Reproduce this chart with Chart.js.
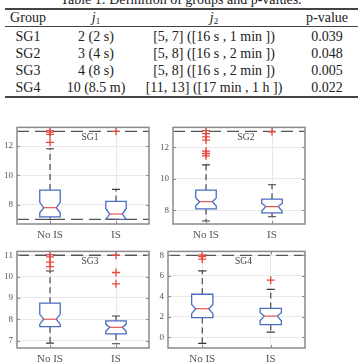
<!DOCTYPE html>
<html>
<head>
<meta charset="utf-8">
<script src="https://cdn.jsdelivr.net/npm/chart.js@4/dist/chart.umd.min.js"></script>
<style>
  html, body { margin: 0; padding: 0; background: #fff; }
  #page { position: relative; width: 362px; height: 364px; overflow: hidden; font-family: "Liberation Serif", "Times New Roman", serif; color: #222; }
  .cell { position: absolute; width: 140px; text-align: center; font-size: 14px; line-height: 16px; white-space: nowrap; }
  .rule { position: absolute; left: 5px; width: 353px; background: #444; }
  .title { position: absolute; left: 0; width: 362px; text-align: center; font-size: 14px; line-height: 16px; top: -8px; }
  sub { font-size: 9px; vertical-align: -2px; line-height: 0; }
  canvas { position: absolute; }
</style>
</head>
<body>
<div id="page">
  <div class="title">Table 1: Definition of groups and p-values.</div>
  <div class="rule" style="top:8px;height:2px"></div>
  <div class="rule" style="top:26px;height:1px"></div>
  <div class="rule" style="top:96px;height:2px"></div>
  <div id="table"></div>
  <canvas id="c0" width="155" height="127" style="left:0;top:118px"></canvas>
  <canvas id="c1" width="160" height="127" style="left:155px;top:118px"></canvas>
  <canvas id="c2" width="155" height="122" style="left:0;top:242px"></canvas>
  <canvas id="c3" width="160" height="122" style="left:155px;top:242px"></canvas>
</div>
<script>
// Table contents
const tableHeader = ['Group', '<i>j</i><sub>1</sub>', '<i>j</i><sub>2</sub>', 'p-value'];
const groupNames = ['SG1', 'SG2', 'SG3', 'SG4'];
const j1Values = ['2 (2 s)', '3 (4 s)', '4 (8 s)', '10 (8.5 m)'];
const j2Values = ['[5, 7] ([16 s , 1 min ])', '[5, 8] ([16 s , 2 min ])', '[5, 8] ([16 s , 2 min ])', '[11, 13] ([17 min , 1 h ])'];
const pValues = ['0.039', '0.048', '0.005', '0.022'];

// Box plot data, one row per group: [No IS, IS]
const categories = ['No IS', 'IS'];
const lowerWhisker = [[7.0, 7.0], [7.33, 7.6], [6.88, 6.85], [-0.59, 0.51]];
const q1 = [[7.17, 7.0], [8.1, 7.84], [7.65, 7.31], [1.93, 1.24]];
const notchLow = [[7.45, 7.0], [8.29, 7.94], [7.77, 7.43], [2.31, 1.62]];
const median = [[7.8, 7.37], [8.55, 8.24], [8.0, 7.62], [2.79, 2.07]];
const notchHigh = [[8.17, 7.75], [8.79, 8.45], [8.23, 7.77], [3.2, 2.41]];
const q3 = [[9.0, 8.23], [9.28, 8.71], [8.75, 7.92], [4.2, 2.82]];
const upperWhisker = [[11.82, 9.05], [10.88, 9.62], [10.26, 8.15], [6.48, 4.68]];
const outliersNoIS = [[13.05, 12.95, 12.8, 12.25], [13.05, 12.85, 12.65, 12.45, 11.75, 11.6, 11.45], [11.03, 10.92, 10.68, 10.47], [8.03, 7.88, 7.62]];
const outliersIS = [[13.0], [12.97], [11.0, 10.19, 9.66], [5.57]];
const refLines = [[13, 7], [13], [11], [8]];
const yTicks = [[8, 10, 12], [8, 10, 12], [7, 8, 9, 10, 11], [0, 2, 4, 6, 8]];

// build the table
const cols = [28, 96, 214, 327];
const rowsY = [18, 37, 54, 71, 88];
let html = '';
const rows = [tableHeader].concat(groupNames.map((g, i) => [g, j1Values[i], j2Values[i], pValues[i]]));
rows.forEach((r, ri) => {
    r.forEach((txt, ci) => {
        html += '<div class="cell" style="left:' + (cols[ci] - 70) + 'px;top:' + (rowsY[ri] - 8) + 'px">' + txt + '</div>';
    });
});
document.getElementById('table').innerHTML = html;

const serif = '"Liberation Serif", "Times New Roman", serif';
const boxBlue = '#4a6dc2';
const medRed = '#e5483f';
const frameGray = '#8a8a8a';

// draws notched boxes, whiskers, frame and group label
const boxPlugin = {
    id: 'boxPlugin',
    beforeDatasetsDraw(chart) {
        const g = chart.options.plugins.boxPlugin.group;
        const xs = chart.scales.x, ys = chart.scales.y;
        const ctx = chart.ctx;
        const y = v => ys.getPixelForValue(v);
        for (let i = 0; i < categories.length; i++) {
            const cx = xs.getPixelForValue(i + 1);
            const hw = xs.getPixelForValue(i + 1 + 0.155) - cx;
            const nw = xs.getPixelForValue(i + 1 + 0.095) - cx;
            const cw = xs.getPixelForValue(i + 1 + 0.06) - cx;
            ctx.save();
            // whiskers
            ctx.strokeStyle = '#3a3a3a';
            ctx.lineWidth = 1.1;
            ctx.setLineDash([6, 4]);
            ctx.beginPath();
            ctx.moveTo(cx, y(q3[g][i])); ctx.lineTo(cx, y(upperWhisker[g][i]));
            ctx.moveTo(cx, y(q1[g][i])); ctx.lineTo(cx, y(lowerWhisker[g][i]));
            ctx.stroke();
            ctx.setLineDash([]);
            ctx.beginPath();
            ctx.moveTo(cx - cw, y(upperWhisker[g][i])); ctx.lineTo(cx + cw, y(upperWhisker[g][i]));
            ctx.moveTo(cx - cw, y(lowerWhisker[g][i])); ctx.lineTo(cx + cw, y(lowerWhisker[g][i]));
            ctx.stroke();
            // notched box
            ctx.fillStyle = '#fff';
            ctx.strokeStyle = boxBlue;
            ctx.lineWidth = 1.3;
            ctx.beginPath();
            ctx.moveTo(cx - hw, y(q3[g][i]));
            ctx.lineTo(cx + hw, y(q3[g][i]));
            ctx.lineTo(cx + hw, y(notchHigh[g][i]));
            ctx.lineTo(cx + nw, y(median[g][i]));
            ctx.lineTo(cx + hw, y(notchLow[g][i]));
            ctx.lineTo(cx + hw, y(q1[g][i]));
            ctx.lineTo(cx - hw, y(q1[g][i]));
            ctx.lineTo(cx - hw, y(notchLow[g][i]));
            ctx.lineTo(cx - nw, y(median[g][i]));
            ctx.lineTo(cx - hw, y(notchHigh[g][i]));
            ctx.closePath();
            ctx.fill();
            ctx.stroke();
            // median
            ctx.strokeStyle = medRed;
            ctx.lineWidth = 1.1;
            ctx.beginPath();
            ctx.moveTo(cx - nw, y(median[g][i])); ctx.lineTo(cx + nw, y(median[g][i]));
            ctx.stroke();
            ctx.restore();
        }
    },
    afterDraw(chart) {
        const g = chart.options.plugins.boxPlugin.group;
        const a = chart.chartArea;
        const ctx = chart.ctx;
        ctx.save();
        ctx.strokeStyle = frameGray;
        ctx.lineWidth = 1.5;
        ctx.strokeRect(a.left, a.top, a.right - a.left, a.bottom - a.top);
        ctx.lineWidth = 1;
        ctx.beginPath();
        yTicks[g].forEach(v => {
            const py = Math.round(chart.scales.y.getPixelForValue(v)) + 0.5;
            ctx.moveTo(a.left, py); ctx.lineTo(a.left + 3, py);
            ctx.moveTo(a.right, py); ctx.lineTo(a.right - 3, py);
        });
        [1, 2].forEach(v => {
            const px = Math.round(chart.scales.x.getPixelForValue(v)) + 0.5;
            ctx.moveTo(px, a.bottom); ctx.lineTo(px, a.bottom - 3);
            ctx.moveTo(px, a.top); ctx.lineTo(px, a.top + 3);
        });
        ctx.stroke();
        ctx.fillStyle = '#444';
        ctx.font = '9.5px ' + serif;
        ctx.textAlign = 'center';
        ctx.textBaseline = 'middle';
        ctx.fillText(groupNames[g], (a.left + a.right) / 2 + 7, a.top + 10);
        ctx.restore();
    }
};

function makeChart(g, yMin, yMax, pad, yWidth, xHeight) {
    const datasets = [];
    refLines[g].forEach(v => {
        datasets.push({
            type: 'line',
            data: [{ x: 0.5, y: v }, { x: 2.5, y: v }],
            borderColor: '#555',
            borderWidth: 1.3,
            borderDash: [12, 6],
            pointRadius: 0,
            order: 2
        });
    });
    const pts = outliersNoIS[g].map(v => ({ x: 1, y: v })).concat(outliersIS[g].map(v => ({ x: 2, y: v })));
    datasets.push({
        type: 'scatter',
        data: pts,
        pointStyle: 'cross',
        pointRadius: 4,
        borderColor: medRed,
        borderWidth: 1.3,
        order: 1
    });
    return new Chart(document.getElementById('c' + g), {
        type: 'scatter',
        data: { datasets: datasets },
        options: {
            responsive: false,
            animation: false,
            events: [],
            layout: { padding: pad },
            plugins: {
                legend: { display: false },
                tooltip: { enabled: false },
                boxPlugin: { group: g }
            },
            scales: {
                x: {
                    type: 'linear',
                    min: 0.5,
                    max: 2.5,
                    afterBuildTicks: s => { s.ticks = categories.map((c, i) => ({ value: i + 1 })); },
                    afterFit: s => { s.height = xHeight; },
                    grid: { color: '#e8e8e8', drawTicks: false },
                    border: { display: false },
                    ticks: {
                        padding: 5,
                        autoSkip: false,
                        maxRotation: 0,
                        color: '#555',
                        font: { family: serif, size: 11 },
                        callback: v => categories[v - 1]
                    }
                },
                y: {
                    min: yMin,
                    max: yMax,
                    afterBuildTicks: s => { s.ticks = yTicks[g].map(v => ({ value: v })); },
                    afterFit: s => { s.width = yWidth; },
                    grid: { color: '#e8e8e8', drawTicks: false },
                    border: { display: false },
                    ticks: {
                        padding: 4,
                        color: '#555',
                        font: { family: serif, size: 9 }
                    }
                }
            }
        },
        plugins: [boxPlugin]
    });
}

makeChart(0, 6.69, 13.27, { top: 6, right: 6, bottom: 0, left: 0 }, 17, 21);
makeChart(1, 7.14, 13.25, { top: 6, right: 10, bottom: 0, left: 0 }, 18, 21);
makeChart(2, 6.65, 11.18, { top: 6, right: 6, bottom: 0, left: 0 }, 17, 16);
makeChart(3, -1.04, 8.38, { top: 6, right: 10, bottom: 0, left: 0 }, 13, 16);
</script>
</body>
</html>
